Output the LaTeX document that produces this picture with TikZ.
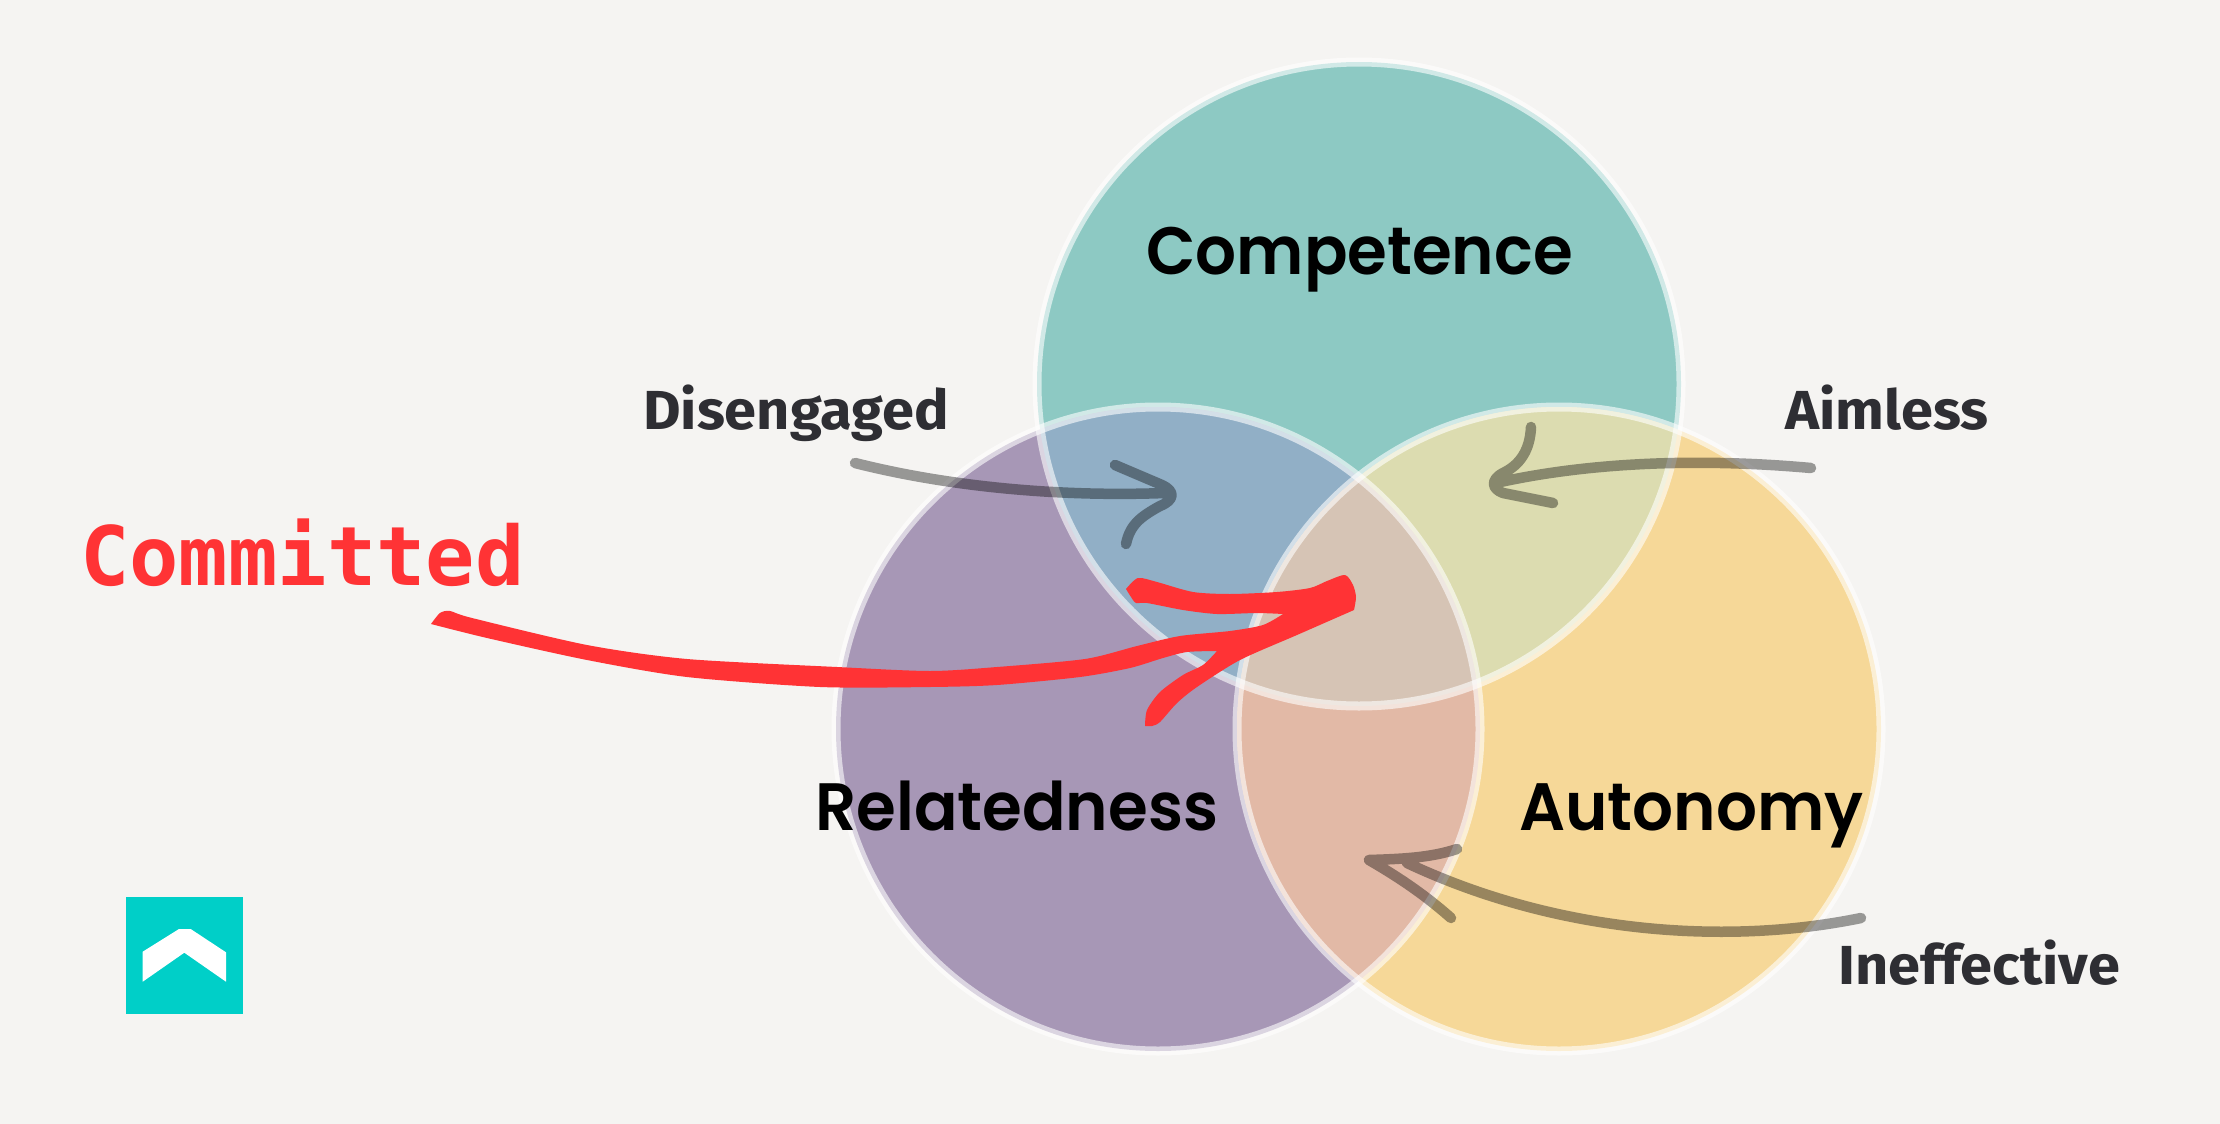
\documentclass[tikz,border=0pt]{standalone}
\usepackage{fontspec}
\setmainfont{Poppins}[BoldFont={Poppins SemiBold},FakeStretch=.96]
\newfontfamily\labfont{Fira Sans}[FakeStretch=1.05]
\newfontfamily\comfont{DejaVu Sans Mono}
\definecolor{bgc}{HTML}{F5F4F2}
\definecolor{tealc}{HTML}{8DC9C3}
\definecolor{purplec}{HTML}{A797B6}
\definecolor{yellowc}{HTML}{F6D898}
\definecolor{tpc}{HTML}{91AFC6}
\definecolor{tyc}{HTML}{DCDCB0}
\definecolor{pyc}{HTML}{E2B9A6}
\definecolor{allc}{HTML}{D6C4B5}
\definecolor{redc}{HTML}{FF3335}
\definecolor{labc}{HTML}{2E2E33}
\definecolor{logoc}{HTML}{00CFC8}
\tikzset{
  ring/.style={draw=white,draw opacity=.6,line width=9pt},
  big/.style={inner sep=0pt,anchor=base west,text=black,font=\fontsize{67}{67}\selectfont\bfseries},
  lab/.style={inner sep=0pt,anchor=base west,text=labc,font=\labfont\fontsize{55}{55}\selectfont\bfseries},
  sketch/.style={draw=black,draw opacity=.38,line width=10.5pt,line cap=round,line join=round},
}
\begin{document}
\begin{tikzpicture}[x=1pt,y=-1pt]
\useasboundingbox (0,0) rectangle (2220,1124);
\fill[bgc] (0,0) rectangle (2220,1124);
\coordinate (C) at (1359,384);
\coordinate (R) at (1158,729);
\coordinate (A) at (1559,729);
\def\rr{322pt}
\fill[tealc] (C) circle[radius=\rr];
\fill[purplec] (R) circle[radius=\rr];
\fill[yellowc] (A) circle[radius=\rr];
\begin{scope}\clip (C) circle[radius=\rr]; \fill[tpc] (R) circle[radius=\rr];\end{scope}
\begin{scope}\clip (C) circle[radius=\rr]; \fill[tyc] (A) circle[radius=\rr];\end{scope}
\begin{scope}\clip (R) circle[radius=\rr]; \fill[pyc] (A) circle[radius=\rr];\end{scope}
\begin{scope}\clip (C) circle[radius=\rr]; \clip (R) circle[radius=\rr]; \fill[allc] (A) circle[radius=\rr];\end{scope}
\draw[ring] (C) circle[radius=\rr];
\draw[ring] (R) circle[radius=\rr];
\draw[ring] (A) circle[radius=\rr];

\node[big] (competence) at (1146,274) {Competence};
\node[big] (relatedness) at (815,830) {Relatedness};
\node[big] (autonomy) at (1519,830) {Autonomy};
\node[lab] (disengaged) at (643,429) {Disengaged};
\node[lab] (aimless) at (1785,429) {Aimless};
\node[lab] (ineffective) at (1838,984) {Ineffective};
\node[inner sep=0pt,anchor=base west,text=redc,font=\comfont\fontsize{82}{82}\selectfont\bfseries] (committed) at (80,585) {Committed};

% hand-drawn grey arrows
\coordinate (disA) at (855,463);
\coordinate (disB) at (1165,493);
\coordinate (aimA) at (1811,468);
\coordinate (aimB) at (1496,483);
\coordinate (ineA) at (1861,918);
\coordinate (ineB) at (1407,863);
\draw[sketch] (disA) .. controls (950,487) and (1060,497) .. (disB)
  (1115,465) -- (1162,485) .. controls (1175,491) and (1175,500) .. (1160,506)
  .. controls (1140,517) and (1130,525) .. (1126,544);
\draw[sketch] (aimA) .. controls (1700,458) and (1590,462) .. (aimB)
  (1531,427) .. controls (1530,450) and (1520,465) .. (1503,473)
  .. controls (1490,480) and (1492,489) .. (1503,493) -- (1553,503);
\draw[sketch] (ineA) .. controls (1730,945) and (1560,935) .. (ineB)
  (1457,849) .. controls (1430,858) and (1400,859) .. (1369,860)
  .. controls (1400,878) and (1425,895) .. (1451,918);

% logo
\fill[logoc] (126,897) rectangle (243,1014);
\fill[white!99!bgc] (142.7,951.7) -- (179,929) -- (190.7,929) -- (226,952.3) -- (226,981.7) -- (184.3,952.7) -- (142.7,981.7) -- cycle;

% red arrow
\fill[redc] plot[smooth,tension=.45] coordinates {
 (431,624) (440,613) (450,611) (472,618) (587,645) (687,659) (837,667) (930,671)
 (997,667) (1085,659) (1137,646) (1180,636) (1230,631) (1263,625) (1283,614)}
 -- plot[smooth,tension=.45] coordinates {
 (1283,614) (1257,613) (1217,614) (1183,610) (1147,603) (1136,603) (1131,597) (1126,589)}
 -- plot[smooth,tension=.45] coordinates {
 (1126,589) (1138,578) (1157,582) (1193,592) (1230,594) (1277,592) (1310,588) (1327,581) (1345,575) (1353,585) (1356,597) (1354,610)}
 -- plot[smooth,tension=.45] coordinates {
 (1354,610) (1297,635) (1240,660) (1197,687) (1177,703) (1160,722) (1152,726) (1145,726)}
 -- plot[smooth,tension=.45] coordinates {
 (1145,726) (1147,710) (1160,692) (1183,675) (1203,665) (1217,651)}
 -- plot[smooth,tension=.45] coordinates {
 (1217,651) (1187,652) (1163,658) (1130,668) (1080,677) (997,685) (930,687) (820,687) (687,677) (587,660) (487,638) (431,624)}
 -- cycle;
\end{tikzpicture}
\end{document}
